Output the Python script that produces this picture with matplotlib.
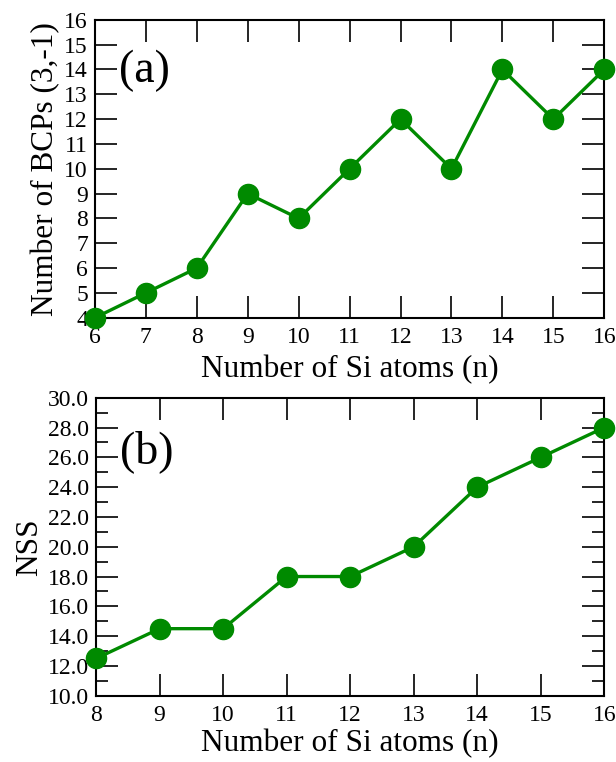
import matplotlib
matplotlib.use('Agg')
import matplotlib.pyplot as plt
from matplotlib.ticker import MultipleLocator, FormatStrFormatter

plt.rcParams['font.family'] = ['Liberation Serif', 'DejaVu Serif']

# panel (a)
n_a = [6, 7, 8, 9, 10, 11, 12, 13, 14, 15, 16]
bcps = [4, 5, 6, 9, 8, 10, 12, 10, 14, 12, 14]

# panel (b)
n_b = [8, 9, 10, 11, 12, 13, 14, 15, 16]
nss = [12.5, 14.5, 14.5, 18, 18, 20, 24, 26, 28]

green = '#008a00'

fig = plt.figure(figsize=(6.16, 7.62), dpi=100)
ax1 = fig.add_axes([0.154, 0.583, 0.827, 0.391])
ax2 = fig.add_axes([0.156, 0.087, 0.825, 0.391])

for ax in (ax1, ax2):
    for s in ax.spines.values():
        s.set_linewidth(1.5)
    ax.tick_params(which='both', direction='in', top=True, right=True,
                   labelsize=17, width=1.2)
    ax.tick_params(which='major', length=16, pad=5)
    ax.tick_params(axis='x', which='major', pad=7)
    ax.tick_params(which='minor', length=8.5)

ax1.plot(n_a, bcps, '-o', color=green, lw=2.4, ms=14.5, clip_on=False, zorder=3)
ax1.set_xlim(6, 16)
ax1.set_ylim(4, 16)
ax1.xaxis.set_major_locator(MultipleLocator(1))
ax1.yaxis.set_major_locator(MultipleLocator(1))
ax1.set_xlabel('Number of Si atoms (n)', fontsize=22.5, labelpad=5)
ax1.set_ylabel('Number of BCPs (3,-1)', fontsize=22.5, labelpad=3)
ax1.text(0.047, 0.83, '(a)', transform=ax1.transAxes, fontsize=33, va='center')

ax2.plot(n_b, nss, '-o', color=green, lw=2.4, ms=14.5, clip_on=False, zorder=3)
ax2.set_xlim(8, 16)
ax2.set_ylim(10, 30)
ax2.xaxis.set_major_locator(MultipleLocator(1))
ax2.yaxis.set_major_locator(MultipleLocator(2))
ax2.yaxis.set_minor_locator(MultipleLocator(1))
ax2.yaxis.set_major_formatter(FormatStrFormatter('%.1f'))
ax2.set_xlabel('Number of Si atoms (n)', fontsize=22.5, labelpad=2)
ax2.set_ylabel('NSS', fontsize=22.5, labelpad=3)
ax2.text(0.047, 0.82, '(b)', transform=ax2.transAxes, fontsize=33, va='center')

fig.savefig('out.png', dpi=100)
